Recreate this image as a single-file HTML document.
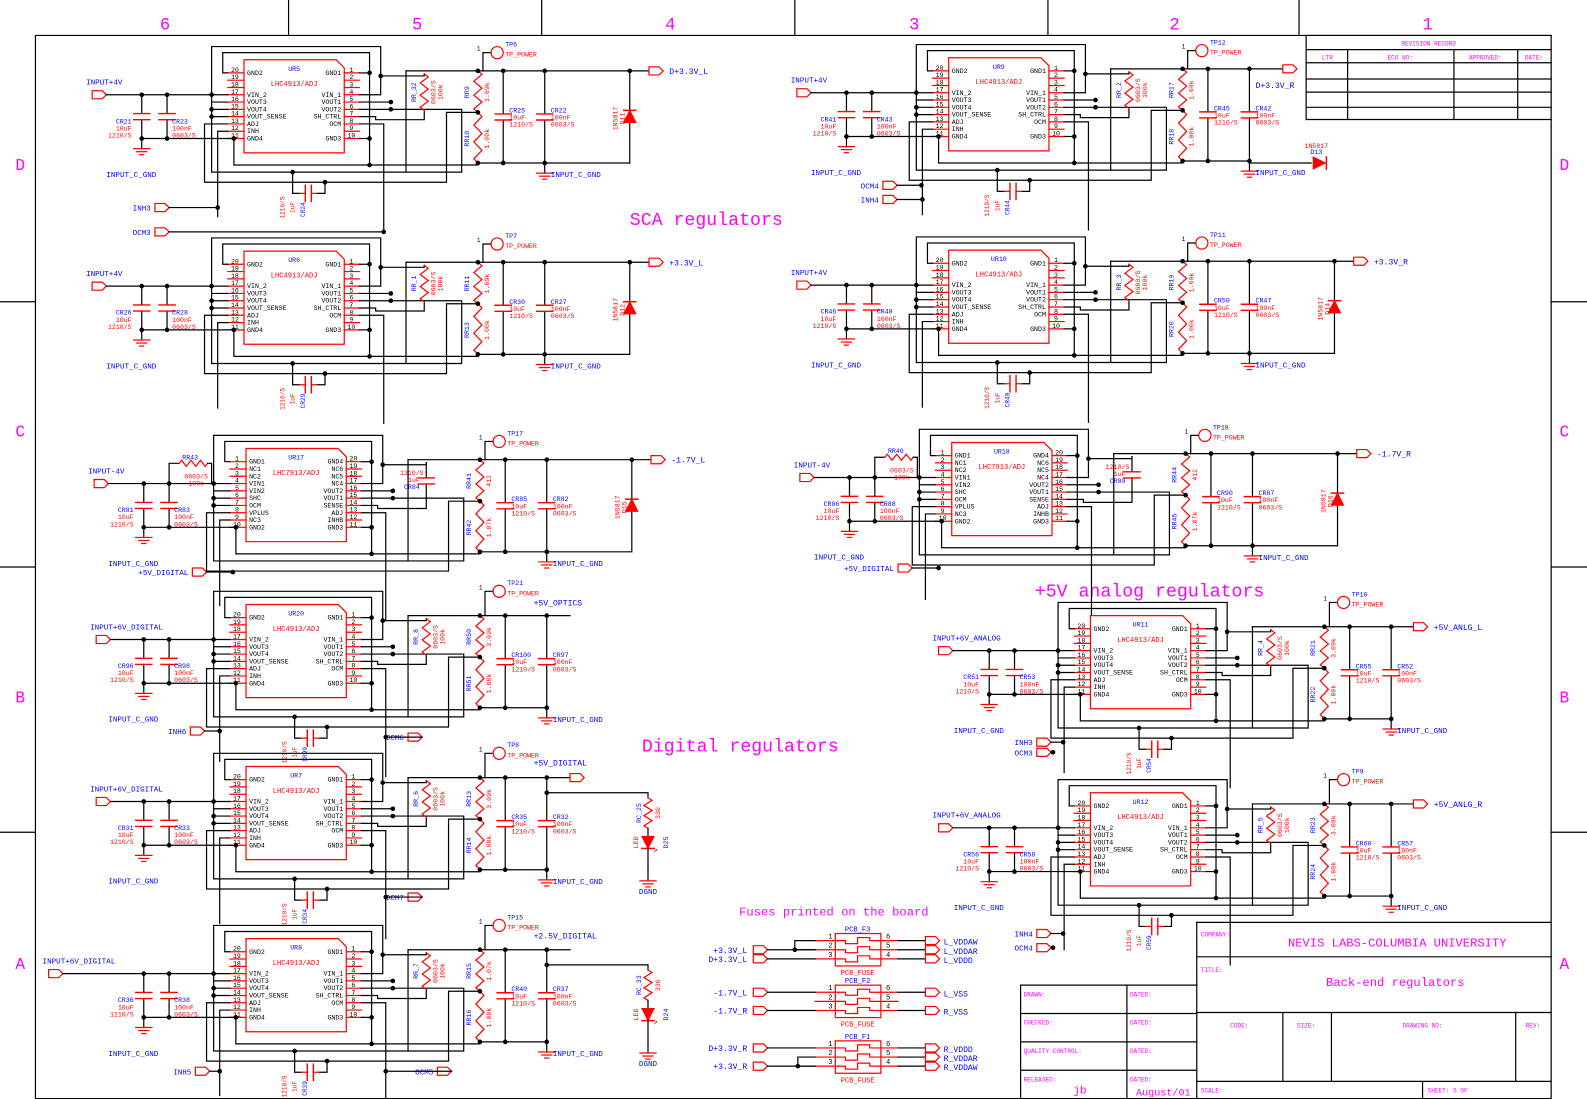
<!DOCTYPE html>
<html><head><meta charset="utf-8"><style>
html,body{margin:0;padding:0;background:#fff}
svg{display:block}
text{font-family:"Liberation Mono","DejaVu Sans Mono",monospace}
</style></head><body>
<svg id="s" xmlns="http://www.w3.org/2000/svg" width="1587" height="1099" viewBox="0 0 1587 1099">
<rect width="1587" height="1099" fill="#fff"/>
<g id="g" transform="scale(1.0125)" stroke-linecap="square"></g>
</svg>
<script>
const NS="http://www.w3.org/2000/svg",G=document.getElementById('g');
const R="#ff0000",B="#0000ff",M="#ff00ff",K="#000";
function el(tag,a,txt){const e=document.createElementNS(NS,tag);for(const k in a)e.setAttribute(k,a[k]);if(txt!==undefined)e.textContent=txt;G.appendChild(e);return e;}
function L(pts,c,w){el('polyline',{points:pts.map(p=>p.join(',')).join(' '),fill:'none',stroke:c||K,'stroke-width':w||1.2});}
function T(x,y,s,c,sz,anc,rot){const a={x:x,y:y,fill:c||B,'font-size':sz||7};if(anc)a['text-anchor']=anc;if(rot)a.transform=`rotate(${rot} ${x} ${y})`;el('text',a,s);}
function dot(x,y){el('circle',{cx:x,cy:y,r:2.3,fill:K});}
function conn(x,y){el('polygon',{points:`${x},${y-4} ${x+10},${y-4} ${x+14},${y} ${x+10},${y+4} ${x},${y+4}`,fill:'#fff',stroke:R,'stroke-width':1.2});}
function zz(x,y1,y2){let d=`M${x},${y1}`;const n=6,h=(y2-y1)/n;for(let i=0;i<n;i++){d+=` L${x+(i%2?-4:4)},${y1+h*(i+0.5)}`;}d+=` L${x},${y2}`;el('path',{d:d,fill:'none',stroke:R,'stroke-width':1.2});}
function capV(x,y1,y2){const m=(y1+y2)/2;L([[x,y1],[x,m-3]]);L([[x,m+3],[x,y2]]);L([[x-8,m-3],[x+8,m-3]],R,1.4);L([[x-8,m+3],[x+8,m+3]],R,1.4);}
function capH(x1,x2,y){const m=(x1+x2)/2;L([[x1,y],[m-3,y]],R);L([[m+3,y],[x2,y]],R);L([[m-3,y-8],[m-3,y+8]],R,1.4);L([[m+3,y-8],[m+3,y+8]],R,1.4);}
function gnd(x,y){L([[x,y],[x,y+10]]);L([[x-8,y+10],[x+8,y+10]],R);L([[x-5,y+13],[x+5,y+13]],R);L([[x-2,y+16],[x+2,y+16]],R);}
// frame
L([[35,35],[1532,35],[1532,1085],[35,1085],[35,35]]);
[285,535,785,1035,1283].forEach(x=>L([[x,0],[x,35]]));
[298,560,822].forEach(y=>{L([[0,y],[35,y]]);L([[1532,y],[1567,y]]);});
[['6',163],['5',412],['4',662],['3',903],['2',1160],['1',1410]].forEach(a=>T(a[1],29,a[0],M,17,'middle'));
[['D',168],['C',431],['B',694],['A',957]].forEach(a=>{T(20,a[1],a[0],M,16,'middle');T(1545,a[1],a[0],M,16,'middle');});
// revision record
[35,49,62,78,91,106,118].forEach(y=>L([[1290,y],[1532,y]]));
L([[1290,35],[1290,118]]);[1331,1436,1499].forEach(x=>L([[x,49],[x,118]]));
T(1411,45,'REVISION RECORD',M,6,'middle');T(1311,59,'LTR',M,6,'middle');T(1383,59,'ECO NO:',M,6,'middle');T(1467,59,'APPROVED:',M,6,'middle');T(1515,59,'DATE:',M,6,'middle');
// title block
L([[1182,911],[1532,911]]);L([[1182,911],[1182,1085]]);L([[1182,945],[1532,945]]);L([[1182,1000],[1532,1000]]);L([[1182,1068],[1532,1068]]);
[1267,1315,1497].forEach(x=>L([[x,1000],[x,1068]]));L([[1405,1068],[1405,1085]]);
T(1186,925,'COMPANY:',M,6);T(1380,935,'NEVIS LABS-COLUMBIA UNIVERSITY',M,12,'middle');
T(1186,960,'TITLE:',M,6);T(1378,974,'Back-end regulators',M,12,'middle');
T(1224,1015,'CODE:',M,6,'middle');T(1290,1015,'SIZE:',M,6,'middle');T(1405,1015,'DRAWING NO:',M,6,'middle');T(1514,1015,'REV:',M,6,'middle');
T(1186,1079,'SCALE:',M,6);T(1410,1079,'SHEET: 5    OF',M,6);
L([[1008,973],[1182,973]]);L([[1008,973],[1008,1085]]);[1001,1029,1057].forEach(y=>L([[1008,y],[1182,y]]));L([[1113,973],[1113,1085]]);
T(1011,984,'DRAWN:',M,6);T(1116,984,'DATED:',M,6);T(1011,1012,'CHECKED:',M,6);T(1116,1012,'DATED:',M,6);
T(1011,1040,'QUALITY CONTROL:',M,6);T(1116,1040,'DATED:',M,6);T(1011,1068,'RELEASED:',M,6);T(1116,1068,'DATED:',M,6);
T(1060,1080,'jb',M,11);T(1122,1082,'August/01',M,10);
// headings
T(622,222,'SCA regulators',M,18);T(1022,589,'+5V analog regulators',M,18);T(634,742,'Digital regulators',M,18);T(730,904,'Fuses printed on the board',M,12);

const P13=['GND2','','','VIN_2','VOUT3','VOUT4','VOUT_SENSE','ADJ','INH','GND4'];
const P13R=['GND1','','','VIN_1','VOUT1','VOUT2','SH_CTRL','OCM','','GND3'];
const P79=['GND1','NC1','NC2','VIN1','VIN2','SHC','OCM','VPLUS','NC3','GND2'];
const P79R=['GND4','NC6','NC5','NC4','VOUT2','VOUT1','SENSE','ADJ','INHB','GND3'];
function reg(o){
 const ix=o.ix,iy=o.iy,W=99,H=92,yp=k=>iy+13+k*7.2;
 const neg=o.neg;
 el('polygon',{points:`${ix},${iy} ${ix+W-8},${iy} ${ix+W},${iy+8} ${ix+W},${iy+H} ${ix},${iy+H}`,fill:'none',stroke:R,'stroke-width':1.2});
 for(let k=0;k<10;k++){const y=yp(k);L([[ix-16,y],[ix,y]],R);L([[ix+W,y],[ix+W+15,y]],R);
  T(ix-9,y-1,String(neg?k+1:20-k),K,6.5,'middle');T(ix+W+7,y-1,String(neg?20-k:k+1),K,6.5,'middle');
  const ln=(neg?P79:P13)[k],rn=(neg?P79R:P13R)[k];if(ln)T(ix+3,y+2,ln,K,6.5);if(rn)T(ix+W-3,y+2,rn,K,6.5,'end');}
 T(ix+W/2,iy+11,o.u,B,6.5,'middle');T(ix+W/2,iy+26,neg?'LHC7913/ADJ':'LHC4913/ADJ',R,7,'middle');
 L([[ix+W+15,yp(3)],[ix+135,yp(3)],[ix+135,iy-13],[ix-32,iy-13],[ix-32,iy+111],[ix+215,iy+111],[ix+215,yp(5)],[ix+W+15,yp(5)]]);
 L([[ix-16,yp(0)],[ix-21,yp(0)],[ix-21,iy-7],[ix+124,iy-7],[ix+124,iy+104]]);
 L([[ix+W+15,yp(0)],[ix+124,yp(0)]]);L([[ix+W+15,yp(9)],[ix+124,yp(9)]]);dot(ix+124,yp(0));dot(ix+124,yp(9));
 L([[ix+135,yp(0)+3],[ix+178,yp(0)+3],[ix+178,iy+14]]);dot(ix+135,yp(0)+3);
 L([[ix+W+15,yp(4)],[ix+W+46,yp(4)]]);dot(ix+W+46,yp(4));dot(ix+W+46,yp(5));
 L([[ix+W+15,yp(6)],[ix+W+31,yp(6)],[ix+W+31,yp(6)+3],[ix+178,yp(6)+3],[ix+178,iy+50]]);
 L([[ix-16,yp(9)],[ix-10,yp(9)]]);L([[ix-10,yp(9)],[ix-10,iy+104],[ix+231,iy+104]]);dot(ix-10,yp(9));
 L([[ix-16,yp(4)],[ix-32,yp(4)]]);dot(ix-32,yp(5));L([[ix-16,yp(5)],[ix-32,yp(5)]]);dot(ix-32,yp(6));L([[ix-16,yp(6)],[ix-32,yp(6)]]);
 L([[ix-16,yp(7)],[ix-39,yp(7)],[ix-39,iy+121],[ix+200,iy+121],[ix+200,iy+52],[ix+231,iy+52]]);
 L([[ix-16,yp(8)],[ix-26,yp(8)],[ix-26,iy+155]]);L([[ix+W+15,yp(7)],[ix+138,yp(7)],[ix+138,iy+170]]);
 dot(ix+124,iy+104);
 if(o.cb){dot(ix+48,iy+111);dot(ix+80,iy+121);
 L([[ix+48,iy+111],[ix+48,iy+132],[ix+55,iy+132]]);L([[ix+80,iy+121],[ix+80,iy+132],[ix+72,iy+132]]);capH(ix+55,ix+72,iy+132);
 T(ix+60,iy+148,o.cb,B,6,'middle',-90);T(ix+50,iy+146,'1uF',R,6,'middle',-90);T(ix+40,iy+146,'1210/S',R,6,'middle',-90);}
 const inx=o.inx!==undefined?o.inx:ix-150, c1=o.c1!==undefined?o.c1:ix-101, c2=c1+25, ly=yp(3);
 conn(inx,ly);L([[inx+14,ly],[ix-16,ly]]);dot(c1,ly);dot(c2,ly);dot(ix-32,ly);T(inx-6,ly-10,o.inp,B,7.5);
 if(neg){L([[c2,ly],[c2,ly-20],[c2+10,ly-20]]);zz2(c2+10,c2+38,ly-20);L([[c2+38,ly-20],[c2+42,ly-20],[c2+42,ly]]);T(c2+13,ly-24,o.rin,B,6.5);T(c2+15,ly-5,'0603/S',R,6.5);T(c2+19,ly+2,'100k',R,6.5);}
 const gy=yp(9);capV(c1,ly,gy);capV(c2,ly,gy);L([[c1,gy],[ix-16,gy]]);dot(c1,gy);dot(c2,gy);gnd(c1,gy);
 T(c1-10,gy-15,o.ci[0],B,6.5,'end');T(c1-10,gy-8,'10uF',R,6.5,'end');T(c1-10,gy-1,'1210/S',R,6.5,'end');
 T(c2+5,gy-15,o.ci[1],B,6.5);T(c2+5,gy-8,'100nF',R,6.5);T(c2+5,gy-1,'0603/S',R,6.5);
 T(c1-35,gy+38,'INPUT_C_GND',B,7.5);
 if(neg){capV(ix+178,iy+14,iy+50);T(ix+152,iy+26,'1210/S',R,6.5);T(ix+160,iy+33,'1uF',R,6.5);T(ix+156,iy+40,o.rr,B,6.5);}
 else{zz(ix+178,iy+14,iy+50);T(ix+170,iy+32,o.rr,B,6.5,'middle',-90);T(ix+189,iy+32,'0603/S',R,6.5,'middle',-90);T(ix+196,iy+32,'100k',R,6.5,'middle',-90);}
 const ty=iy+11,by=iy+102,r1=ix+231,k1=ix+256,k2=ix+297;
 L([[ix+160,ty],[o.outx!==undefined?ix+o.outx:ix+400,ty]]);L([[ix+160,ty],[ix+160,iy+111]]);
 zz(r1,ty,iy+52);zz(r1,iy+52,by);dot(r1,ty);dot(r1,iy+52);dot(r1,by);
 T(r1-9,iy+32,o.ra[0],B,6.5,'middle',-90);T(r1+11,iy+32,o.ra[1],R,6.5,'middle',-90);T(r1-9,iy+78,o.ra[2],B,6.5,'middle',-90);T(r1+11,iy+78,o.ra[3],R,6.5,'middle',-90);
 L([[r1,by],[o.dio?ix+381:k2,by]]);capV(k1,ty,by);capV(k2,ty,by);dot(k1,ty);dot(k2,ty);dot(k1,by);dot(k2,by);gnd(k2,by);
 T(k1+6,iy+52,o.co[0],B,6.5);T(k1+6,iy+59,'10uF',R,6.5);T(k1+6,iy+66,'1210/S',R,6.5);
 T(k2+6,iy+52,o.co[1],B,6.5);T(k2+6,iy+59,'100nF',R,6.5);T(k2+6,iy+66,'0603/S',R,6.5);
 T(k2+6,by+14,'INPUT_C_GND',B,7.5);
 const tpy=iy+(o.tpy!==undefined?o.tpy:-7);
 L([[k1-20,ty],[k1-20,tpy],[k1-12,tpy]]);el('circle',{cx:k1-6,cy:tpy,r:6,fill:'none',stroke:R,'stroke-width':1.2});
 T(k1-26,tpy-2,'1',K,6);T(k1+2,tpy+4,'TP_POWER',R,6.5);T(k1+2,tpy-6,o.tp,B,6.5);
 if(o.dio){const dx=ix+381;L([[dx,ty],[dx,by]]);dot(dx,ty);
  el('polygon',{points:`${dx-6},${iy+62} ${dx+6},${iy+62} ${dx},${iy+50}`,fill:R,stroke:R});L([[dx-6,iy+50],[dx+6,iy+50]],R,1.5);
  T(dx-12,iy+58,'1N5817',R,6.5,'middle',-90);T(dx-5,iy+58,o.dio,R,6.5,'middle',-90);}
 if(o.out){const cx=o.outx!==undefined?ix+o.outx:ix+400;conn(cx,ty);T(cx+20,ty+3,o.out,B,8);}
 if(o.outl){T(ix+o.outl[0],iy+o.outl[1],o.outl[2],B,8);if(o.outc)conn(ix+o.outx,ty);}
 if(o.led){const lx=ix+397;L([[k2,ty+15],[lx,ty+15],[lx,ty+20]]);dot(k2,ty+15);zz(lx,ty+20,ty+50);L([[lx,ty+50],[lx,ty+58]]);
  el('polygon',{points:`${lx-6},${ty+58} ${lx+6},${ty+58} ${lx},${ty+70}`,fill:R,stroke:R});L([[lx-6,ty+70],[lx+6,ty+70]],R,1.5);L([[lx,ty+70],[lx,ty+92]]);gnd(lx,ty+92);
  T(lx-7,ty+35,o.led[0],B,6.5,'middle',-90);T(lx+12,ty+35,'330',R,6.5,'middle',-90);T(lx-10,ty+64,'LED',R,6.5,'middle',-90);T(lx+20,ty+64,o.led[1],B,6.5,'middle',-90);
  T(lx+5,ty+74,'↗',R,8);T(lx,ty+115,'DGND',B,7.5,'middle');}
 (o.ctl||[]).forEach(c=>{conn(c[1],c[2]);T(c[1]-4,c[2]+3,c[0],B,7.5,'end');L([[c[1]+14,c[2]],[c[3],c[2]]]);dot(c[3],c[2]);});
}
function zz2(x1,x2,y){let d=`M${x1},${y}`;const n=6,h=(x2-x1)/n;for(let i=0;i<n;i++)d+=` L${x1+h*(i+.5)},${y+(i%2?3:-3)}`;d+=` L${x2},${y}`;el('path',{d:d,fill:'none',stroke:R,'stroke-width':1.2});}

reg({ix:241,iy:59,u:'UR5',inp:'INPUT+4V',ci:['CR21','CR23'],rr:'RR_32',ra:['RR9','1.69k','RR10','1.00k'],co:['CR25','CR22'],tp:'TP6',dio:'D11',out:'D+3.3V_L',cb:'CR24',ctl:[['INH3',153,205,215],['OCM3',153,229,379]]});
reg({ix:241,iy:248,u:'UR6',inp:'INPUT+4V',ci:['CR26','CR28'],rr:'RR_1',ra:['RR11','1.69k','RR13','1.00k'],co:['CR30','CR27'],tp:'TP7',dio:'D12',out:'+3.3V_L',cb:'CR29'});
reg({ix:243,iy:443,u:'UR17',neg:1,rin:'RR43',inp:'INPUT-4V',ci:['CR81','CR83'],rr:'CR84',ra:['RR41','412','RR42','1.07k'],co:['CR85','CR82'],tp:'TP17',dio:'D15',out:'-1.7V_L',cb:'',ctl:[['+5V_DIGITAL',190,565,230]]});
reg({ix:243,iy:597,u:'UR20',inp:'INPUT+6V_DIGITAL',inx:95,ci:['CR96','CR98'],rr:'RR_8',ra:['RR50','3.09k','RR51','1.00k'],co:['CR100','CR97'],tp:'TP21',tpy:-13,outx:320,outl:[284,1,'+5V_OPTICS'],cb:'CR99',ctl:[['INH6',188,722,217],['OCM6',403,728,381]]});
reg({ix:243,iy:757,u:'UR7',inp:'INPUT+6V_DIGITAL',inx:95,ci:['CR31','CR33'],rr:'RR_6',ra:['RR13','3.09k','RR14','1.00k'],co:['CR35','CR32'],tp:'TP8',tpy:-13,outx:320,outc:1,outl:[284,-1,'+5V_DIGITAL'],led:['RC_25','D25'],cb:'CR34',ctl:[['OCM7',403,886,381]]});
reg({ix:243,iy:927,u:'UR8',inp:'INPUT+6V_DIGITAL',inx:48,ci:['CR36','CR38'],rr:'RR_7',ra:['RR15','1.07k','RR16','1.00k'],co:['CR40','CR37'],tp:'TP15',tpy:-13,outx:320,outl:[284,0,'+2.5V_DIGITAL'],led:['RC_33','D24'],cb:'CR39',ctl:[['INH5',193,1058,217],['OCM5',432,1058,381]]});
reg({ix:937,iy:57,u:'UR9',inp:'INPUT+4V',ci:['CR41','CR43'],rr:'RR_2',ra:['RR17','1.69k','RR18','1.00k'],co:['CR45','CR42'],tp:'TP12',outx:330,outc:1,outl:[303,30,'D+3.3V_R'],cb:'CR44',ctl:[['OCM4',872,183,910],['INH4',872,197,911]]});
reg({ix:937,iy:247,u:'UR10',inp:'INPUT+4V',ci:['CR46','CR48'],rr:'RR_3',ra:['RR19','1.69k','RR20','1.00k'],co:['CR50','CR47'],tp:'TP11',dio:'D14',out:'+3.3V_R',cb:'CR49'});
reg({ix:940,iy:437,u:'UR18',neg:1,rin:'RR46',inp:'INPUT-4V',ci:['CR86','CR88'],rr:'CR89',ra:['RR44','412','RR45','1.07k'],co:['CR90','CR87'],tp:'TP18',dio:'D16',out:'-1.7V_R',cb:'',ctl:[['+5V_DIGITAL',887,561,927]]});
reg({ix:1077,iy:608,u:'UR11',inp:'INPUT+6V_ANALOG',inx:927,c1:977,ci:['CR51','CR53'],rr:'RR_4',ra:['RR21','3.09k','RR22','1.00k'],co:['CR55','CR52'],tp:'TP10',tpy:-13,outx:319,out:'+5V_ANLG_L',cb:'CR54',ctl:[['INH3',1024,733,1050],['OCM3',1024,743,1040]]});
reg({ix:1077,iy:783,u:'UR12',inp:'INPUT+6V_ANALOG',inx:927,c1:977,ci:['CR56','CR58'],rr:'RR_5',ra:['RR23','3.09k','RR24','1.00k'],co:['CR60','CR57'],tp:'TP9',tpy:-13,outx:319,out:'+5V_ANLG_R',cb:'CR59',ctl:[['INH4',1024,922,1050],['OCM4',1024,936,1040]]});
L([[1234,161],[1295,161]]);el('polygon',{points:`1297,155 1297,167 1309,161`,fill:R,stroke:R});L([[1310,155],[1310,167]],R,1.5);T(1300,146,'1N5817',R,6.5,'middle');T(1300,152,'D13',B,6.5,'middle');
function fuse(y,name,ins,outs,jn){const x=825;el('rect',{x:x,y:y,width:45,height:32,fill:'none',stroke:R,'stroke-width':1.2});
 T(x+22,y-2,name,B,7,'middle');T(x+22,y+41,'PCB_FUSE',R,7,'middle');
 for(let i=0;i<3;i++){const yy=y+7+i*9;L([[x-20,yy],[x+3,yy]],R);L([[x+3,yy],[x+10,yy],[x+10,yy+3],[x+22,yy+3],[x+22,yy-3],[x+34,yy-3],[x+34,yy],[x+45,yy],[x+62,yy]],R);
  T(x-7,yy-2,String(i+1),K,7);T(x+50,yy-2,String(6-i),K,7);}
 ins.forEach(a=>{const yy=y+7+a[2]*9;conn(744,yy);T(738,yy+3,a[0],B,8,'end');L([[758,yy],[805,yy]]);});
 outs.forEach(a=>{const yy=y+7+a[1]*9;L([[887,yy],[914,yy]]);conn(914,yy);T(932,yy+4,a[0],B,8);});
 if(jn){L([[jn[0],y+7+jn[1]*9],[jn[0],y+7+jn[2]*9],[805,y+7+jn[2]*9]]);dot(jn[0],y+7+jn[1]*9);L([[jn[0],y+7+jn[1]*9],[805,y+7+jn[1]*9]]);}}
fuse(922,'PCB_F3',[['+3.3V_L',0,1],['D+3.3V_L',0,2]],[['L_VDDAW',0],['L_VDDAR',1],['L_VDDD',2]],[785,1,0]);
fuse(973,'PCB_F2',[['-1.7V_L',0,0],['-1.7V_R',0,2]],[['L_VSS',0],['R_VSS',2]]);
fuse(1028,'PCB_F1',[['D+3.3V_R',0,0],['+3.3V_R',0,2]],[['R_VDDD',0],['R_VDDAR',1],['R_VDDAW',2]],[788,2,1]);
</script>
</body></html>
